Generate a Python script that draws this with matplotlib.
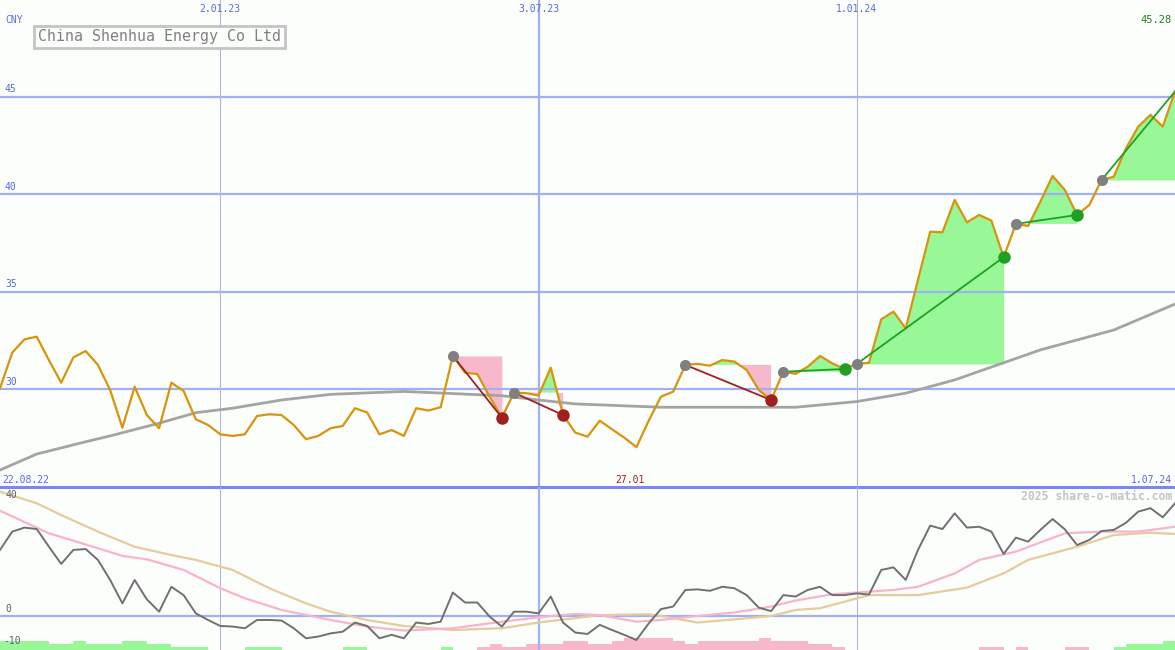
import numpy as np
import matplotlib
matplotlib.use('Agg')
from matplotlib import pyplot as plt

plt.rcParams['font.family'] = ['DejaVu Sans Mono']

# weekly closes, 29.08.22 .. 1.07.24 (week index 0..96)
preco = [30.06, 31.89, 32.57, 32.71, 31.50, 30.35, 31.65, 31.97, 31.26, 29.97,
         28.04, 30.14, 28.69, 28.01, 30.35, 29.92, 28.47, 28.18, 27.70, 27.62,
         27.70, 28.64, 28.73, 28.69, 28.18, 27.45, 27.62, 28.01, 28.13, 29.04,
         28.82, 27.70, 27.92, 27.62, 29.04, 28.92, 29.09, 31.72, 30.86, 30.79,
         29.63, 28.56, 29.84, 29.81, 29.69, 31.12, 28.69, 27.79, 27.58, 28.40,
         27.96, 27.53, 27.04, 28.40, 29.63, 29.89, 31.26, 31.31, 31.22, 31.51,
         31.43, 31.00, 29.97, 29.46, 30.91, 30.80, 31.17, 31.72, 31.34, 31.05,
         31.31, 31.37, 33.60, 33.99, 33.13, 35.62, 38.09, 38.06, 39.72, 38.57,
         38.95, 38.66, 36.78, 38.49, 38.38, 39.63, 40.95, 40.23, 38.95, 39.46,
         40.74, 40.91, 42.37, 43.48, 44.08, 43.48, 45.28]

# long moving average (grey)
ma_sem = [0, 3, 7, 9, 13, 16, 19, 23, 27, 33, 41, 44, 47, 54, 65, 70, 74, 78, 85, 91, 96]
ma_val = [25.87, 26.69, 27.32, 27.62, 28.27, 28.81, 29.04, 29.46, 29.75, 29.90, 29.68,
          29.46, 29.26, 29.09, 29.09, 29.38, 29.81, 30.49, 32.03, 33.05, 34.38]

# swings: (inicio, fim)
swings = [(37, 41), (42, 46), (56, 63), (64, 69), (70, 82), (83, 88), (90, 96)]

# lower panel
osc = [23.1, 29.5, 30.9, 30.4, 24.2, 18.2, 23.1, 23.4, 19.6, 12.6,
       4.4, 12.6, 5.8, 1.5, 10.2, 7.3, 0.9, -1.4, -3.5, -3.7,
       -4.3, -1.4, -1.4, -1.6, -4.3, -7.8, -7.2, -6.1, -5.5, -2.3,
       -3.5, -7.8, -6.6, -7.8, -2.3, -2.8, -2.0, 8.2, 4.7, 4.7,
       -0.2, -3.7, 1.5, 1.5, 0.9, 6.8, -2.3, -5.8, -6.3, -3.1,
       -4.9, -6.6, -8.4, -2.6, 2.4, 3.3, 9.1, 9.3, 8.8, 10.2,
       9.7, 7.3, 2.9, 1.7, 7.3, 6.8, 9.1, 10.2, 7.3, 7.3,
       7.9, 7.5, 16.1, 17.0, 12.6, 23.1, 31.6, 30.4, 35.9, 30.9,
       31.2, 29.5, 21.7, 27.4, 26.0, 30.1, 33.9, 30.3, 24.8, 26.6,
       29.7, 30.1, 32.6, 36.5, 37.7, 34.5, 39.4]

rosa_sem = [0, 4, 8, 10, 12, 15, 18, 20, 23, 27, 30, 33, 37, 41, 45, 47, 49, 52, 54, 57,
            60, 63, 65, 68, 73, 75, 78, 80, 83, 87, 90, 93, 96]
rosa_val = [36.8, 28.9, 23.7, 21.0, 19.8, 16.1, 9.7, 6.2, 2.1, -1.4, -3.7, -5.1, -4.3, -2.0,
            0.0, 0.7, 0.3, -2.0, -1.4, 0.0, 1.2, 3.3, 5.4, 7.6, 9.1, 10.2, 14.9, 19.6, 22.5,
            28.9, 29.5, 29.5, 31.2]

bege_sem = [0, 3, 5, 8, 11, 14, 16, 19, 22, 25, 27, 30, 33, 37, 41, 44, 49, 53, 54, 57,
            60, 63, 65, 67, 71, 75, 79, 82, 84, 88, 91, 94, 96]
bege_val = [43.5, 39.4, 35.3, 29.5, 24.2, 21.3, 19.6, 16.1, 9.7, 4.4, 1.5, -1.4, -3.5, -4.9,
            -4.3, -2.3, 0.3, 0.6, 0.0, -2.3, -1.2, 0.0, 2.1, 2.7, 7.3, 7.3, 9.9, 14.9, 19.6,
            24.2, 28.3, 29.1, 28.7]

barras = [3, 3, 3, 3, 2, 2, 3, 2, 2, 2, 3, 3, 2, 2, 1, 1, 1, 0, 0, 0,
          1, 1, 1, 0, 0, 0, 0, 0, 1, 1, 0, 0, 0, 0, 0, 0, 1, 0, 0, -1,
          -2, -1, -1, -2, -2, -2, -3, -3, -2, -2, -3, -4, -4, -4, -4, -3, -2, -3, -3, -3,
          -3, -3, -4, -3, -3, -3, -2, -2, -1, 0, 0, 0, 0, 0, 0, 0, 0, 0, 0, 0,
          -1, -1, 0, -1, 0, 0, 0, -1, -1, 0, 0, 1, 2, 2, 2, 3, 0]

datas_grade = [18, 44, 70]
rotulos_grade = ['2.01.23', '3.07.23', '1.01.24']
niveis = [30, 35, 40, 45]

fundo = '#fcfefc'
azul = '#a0b0f0'
W, H = 1175, 650

fig = plt.figure(figsize=(W / 100, H / 100), dpi=100, facecolor=fundo)
ax1 = fig.add_axes([0, 163 / H, 1, 487 / H])
ax2 = fig.add_axes([0, 0, 1, 163 / H])
for ax in (ax1, ax2):
    ax.set_facecolor(fundo)
    ax.set_axis_off()
    ax.set_xlim(0, 96)
ax1.set_ylim(25, 49.97)
ax2.set_ylim(-11.9, 45.1)

x = np.arange(len(preco))
p = np.array(preco)

############ painel de cima
for ini, fim in swings:
    xs = x[ini:fim + 1]
    ys = p[ini:fim + 1]
    nivel = p[ini]
    ax1.fill_between(xs, nivel, ys, where=ys >= nivel, interpolate=True,
                     color='#98f898', lw=0, zorder=1)
    ax1.fill_between(xs, nivel, ys, where=ys <= nivel, interpolate=True,
                     color='#f8b8cc', lw=0, zorder=1)

for n in niveis:
    ax1.axhline(n, color=azul, lw=1.6, zorder=2)
    ax1.text(0.4, n + 0.15, str(n), color='#5868e8', fontsize=7, va='bottom', ha='left')
for d in datas_grade:
    if d == 44:
        lw, cor = 1.6, azul
    else:
        lw, cor = 0.8, '#b4b8d8'
    for ax in (ax1, ax2):
        ax.axvline(d, color=cor, lw=lw, zorder=2)
for d, r in zip(datas_grade, rotulos_grade):
    ax1.annotate(r, (d, 1 - 9 / 487), xycoords=('data', 'axes fraction'),
                 color='#5868e8', fontsize=7, ha='center', va='center')

ax1.plot(ma_sem, ma_val, color='#a4a4a4', lw=2, zorder=3)
ax1.plot(x, p, color='#d8940c', lw=1.6, zorder=4)

for k, (ini, fim) in enumerate(swings):
    sobe = p[fim] > p[ini]
    cor = '#20a020' if sobe else '#a02020'
    ax1.plot([ini, fim], [p[ini], p[fim]], color=cor, lw=1.3, zorder=5)
    ax1.plot(ini, p[ini], 'o', color='#808080', ms=8, mec='none', zorder=6)
    if k < len(swings) - 1:
        ax1.plot(fim, p[fim], 'o', color=cor, ms=9, mec='none', zorder=6)

ax1.axhline(25, color='#7888f0', lw=2.2, zorder=7, clip_on=False)

############ painel de baixo
ax2.axhline(0, color=azul, lw=1.6, zorder=2)
b = np.array(barras)
alt = np.abs(b) * 3 / 2.86
cores = ['#98f898' if v > 0 else '#f8b8cc' for v in b]
ax2.bar(x, alt, bottom=-11.9, width=1, align='edge', color=cores, lw=0, zorder=1)
ax2.plot(bege_sem, bege_val, color='#e4cc9c', lw=1.6, zorder=3)
ax2.plot(rosa_sem, rosa_val, color='#f8b4cc', lw=1.6, zorder=3)
ax2.plot(x, osc, color='#707070', lw=1.4, zorder=4)


def fpx(px, py):
    return px / W, 1 - py / H


fig.text(*fpx(5, 20), 'CNY', color='#5868e8', fontsize=7, va='center', ha='left')
fig.text(*fpx(1172, 20), '45.28', color='#208020', fontsize=7.5, va='center', ha='right')
fig.text(*fpx(38, 37), 'China Shenhua Energy Co Ltd', color='#808080', fontsize=10.8,
         va='center', ha='left',
         bbox=dict(boxstyle='square,pad=0.25', fc=fundo, ec='#c4c4c4', lw=2))
fig.text(*fpx(2, 480), '22.08.22', color='#5868e8', fontsize=7, va='center', ha='left')
fig.text(*fpx(630, 480), '27.01', color='#a02020', fontsize=7, va='center', ha='center')
fig.text(*fpx(1172, 480), '1.07.24', color='#5868e8', fontsize=7, va='center', ha='right')
fig.text(*fpx(1172, 496), '2025 share-o-matic.com', color='#c4c4c4', fontsize=8.3,
         fontweight='bold', va='center', ha='right')
fig.text(*fpx(5, 495), '40', color='#606060', fontsize=7, va='center', ha='left')
fig.text(*fpx(5, 609), '0', color='#606060', fontsize=7, va='center', ha='left')
fig.text(*fpx(3, 641), '-10', color='#606060', fontsize=7, va='center', ha='left')

fig.savefig('out.png', dpi=100, facecolor=fundo)
